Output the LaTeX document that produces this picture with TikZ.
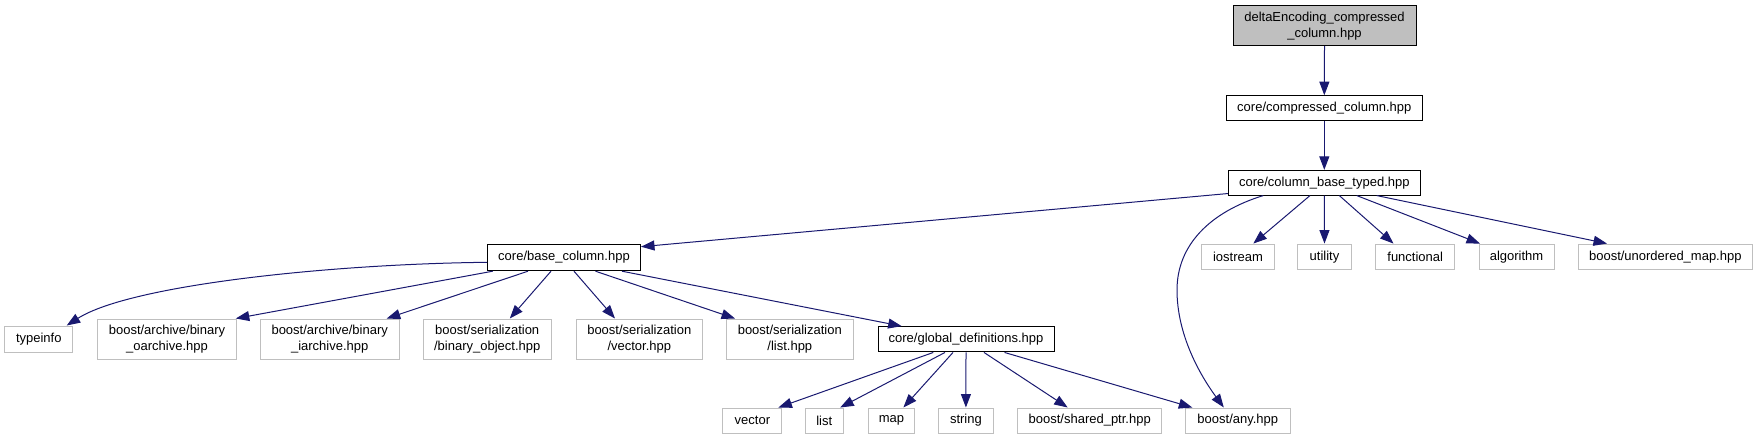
\documentclass[tikz,border=0pt]{standalone}
\usepackage{fontspec}
\setmainfont{Liberation Sans}
\usetikzlibrary{arrows.meta}
\definecolor{extgray}{HTML}{BFBFBF}
\definecolor{rootgray}{HTML}{BFBFBF}
\definecolor{edgeblue}{HTML}{191970}
\tikzset{
  boxbase/.style={rectangle, inner sep=0pt, align=center, line width=1pt,
    font=\fontsize{13}{16}\selectfont},
  intbox/.style={boxbase, draw=black, fill=white},
  extbox/.style={boxbase, draw=extgray, fill=white},
  rootbox/.style={boxbase, draw=black, fill=rootgray},
  dep/.style={draw=edgeblue, line width=1pt, -{Triangle[length=13.5pt,width=10pt]}},
}
\begin{document}
\begin{tikzpicture}[x=1pt,y=-1pt]
\useasboundingbox (0,0) rectangle (1756,440);
% nodes
\node[rootbox, minimum width=183pt, minimum height=40pt] (delta) at (1324.5,25.7) {deltaEncoding\_compressed\\\_column.hpp};
\node[intbox, minimum width=196pt, minimum height=24.6pt] (comp) at (1324.3,108) {core/compressed\_column.hpp};
\node[intbox, minimum width=192pt, minimum height=24.7pt] (cbt) at (1324.3,182.7) {core/column\_base\_typed.hpp};
\node[intbox, minimum width=153pt, minimum height=26.4pt] (base) at (564,257.5) {core/base\_column.hpp};
\node[extbox, minimum width=72.6pt, minimum height=25.3pt] (iostream) at (1238,256.7) {iostream};
\node[extbox, minimum width=53.7pt, minimum height=25.3pt] (utility) at (1324.5,256.7) {utility};
\node[extbox, minimum width=79pt, minimum height=25.3pt] (functional) at (1415.2,256.7) {functional};
\node[extbox, minimum width=75pt, minimum height=25.3pt] (algorithm) at (1516.5,256.7) {algorithm};
\node[extbox, minimum width=174pt, minimum height=25.3pt] (unordered) at (1665.3,256.7) {boost/unordered\_map.hpp};
\node[extbox, minimum width=67.7pt, minimum height=26pt] (typeinfo) at (38.8,339) {typeinfo};
\node[extbox, minimum width=138.6pt, minimum height=40pt] (oarchive) at (167,339) {boost/archive/binary\\\_oarchive.hpp};
\node[extbox, minimum width=138.7pt, minimum height=40pt] (iarchive) at (329.7,339) {boost/archive/binary\\\_iarchive.hpp};
\node[extbox, minimum width=127.7pt, minimum height=40pt] (binobj) at (487.2,339) {boost/serialization\\/binary\_object.hpp};
\node[extbox, minimum width=126.3pt, minimum height=40pt] (servec) at (639.3,339) {boost/serialization\\/vector.hpp};
\node[extbox, minimum width=126.5pt, minimum height=40pt] (serlist) at (789.8,339) {boost/serialization\\/list.hpp};
\node[intbox, minimum width=176pt, minimum height=25.3pt] (global) at (966,339.3) {core/global\_definitions.hpp};
\node[extbox, minimum width=59pt, minimum height=25pt] (vector) at (752.4,420.5) {vector};
\node[extbox, minimum width=38pt, minimum height=25pt] (list) at (824.2,420.5) {list};
\node[extbox, minimum width=46.7pt, minimum height=25pt] (map) at (891.4,420.5) {map};
\node[extbox, minimum width=55pt, minimum height=25pt] (string) at (965.9,420.5) {string};
\node[extbox, minimum width=144.3pt, minimum height=25pt] (sharedptr) at (1089.7,420.5) {boost/shared\_ptr.hpp};
\node[extbox, minimum width=104.4pt, minimum height=25pt] (any) at (1237.8,420.5) {boost/any.hpp};
% edges
\draw[dep] (delta.south) -- (comp.north);
\draw[dep] (comp.south) -- (cbt.north);
\draw[dep] ([yshift=2pt]cbt.south west) -- ([yshift=10.8pt]base.east);
\draw[dep] ([xshift=-14.3pt]cbt.south) -- ([xshift=15.3pt]iostream.north);
\draw[dep] (cbt.south) -- (utility.north);
\draw[dep] ([xshift=15pt]cbt.south) -- ([xshift=-21.7pt]functional.north);
\draw[dep] ([xshift=32.4pt]cbt.south) -- ([xshift=-36.5pt]algorithm.north);
\draw[dep] ([xshift=52.4pt]cbt.south) -- ([xshift=-58.3pt]unordered.north);
\draw[dep] ([xshift=-61pt]cbt.south) .. controls (1210,212) and (1177,245) .. (1177,290)
  .. controls (1177,335) and (1200,375) .. ([xshift=-14pt]any.north);
\draw[dep] ([yshift=-4.8pt]base.west) .. controls (330,264) and (130,285) .. ([xshift=27.9pt]typeinfo.north);
\draw[dep] ([xshift=5.7pt]base.south west) -- ([xshift=-1pt]oarchive.north east);
\draw[dep] ([xshift=-36pt]base.south) -- ([xshift=57pt]iarchive.north);
\draw[dep] ([xshift=-13pt]base.south) -- ([xshift=22.6pt]binobj.north);
\draw[dep] ([xshift=10pt]base.south) -- ([xshift=-24.3pt]servec.north);
\draw[dep] ([xshift=31.5pt]base.south) -- ([xshift=-54.8pt]serlist.north);
\draw[dep] ([xshift=58pt]base.south) -- ([xshift=-64.3pt]global.north);
\draw[dep] ([xshift=-32.7pt]global.south) -- ([xshift=26pt]vector.north);
\draw[dep] ([xshift=-21pt]global.south) -- ([xshift=16pt]list.north);
\draw[dep] ([xshift=-13pt]global.south) -- ([xshift=12pt]map.north);
\draw[dep] (global.south) -- (string.north);
\draw[dep] ([xshift=18pt]global.south) -- ([xshift=-22pt]sharedptr.north);
\draw[dep] ([xshift=38.5pt]global.south) -- ([xshift=-45.5pt]any.north);
\end{tikzpicture}
\end{document}
